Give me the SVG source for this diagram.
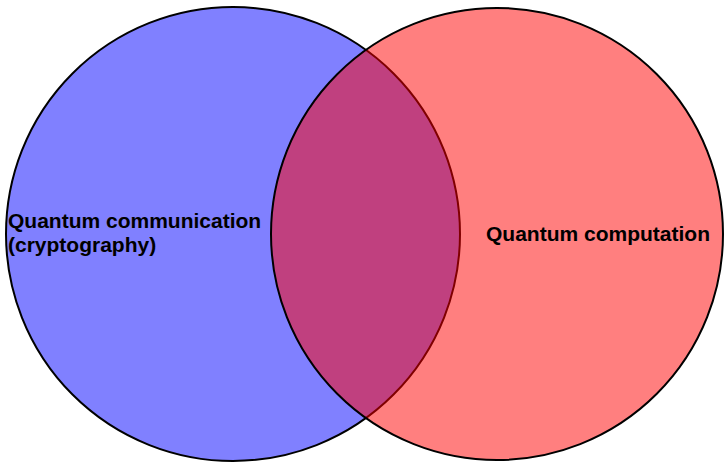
<svg xmlns="http://www.w3.org/2000/svg" width="727" height="463" viewBox="0 0 727 463">
<style>
.c{stroke:#000;stroke-width:2}
.t{font-family:"Liberation Sans",Arial,sans-serif;font-weight:bold;font-size:21px;fill:#000}
</style>
<rect width="727" height="463" fill="#fff"/>
<g id="communication">
<circle class="c" cx="233" cy="234" r="227" fill="#8080ff"/>
</g>
<g id="computation">
<circle class="c" cx="497" cy="234" r="226" fill="#ff0000" fill-opacity="0.5"/>
</g>
<g id="labels">
<text class="t" x="8" y="228">Quantum communication</text>
<text class="t" x="8" y="252">(cryptography)</text>
<text class="t" x="486" y="241">Quantum computation</text>
</g>
<g id="connectors"/>
</svg>
